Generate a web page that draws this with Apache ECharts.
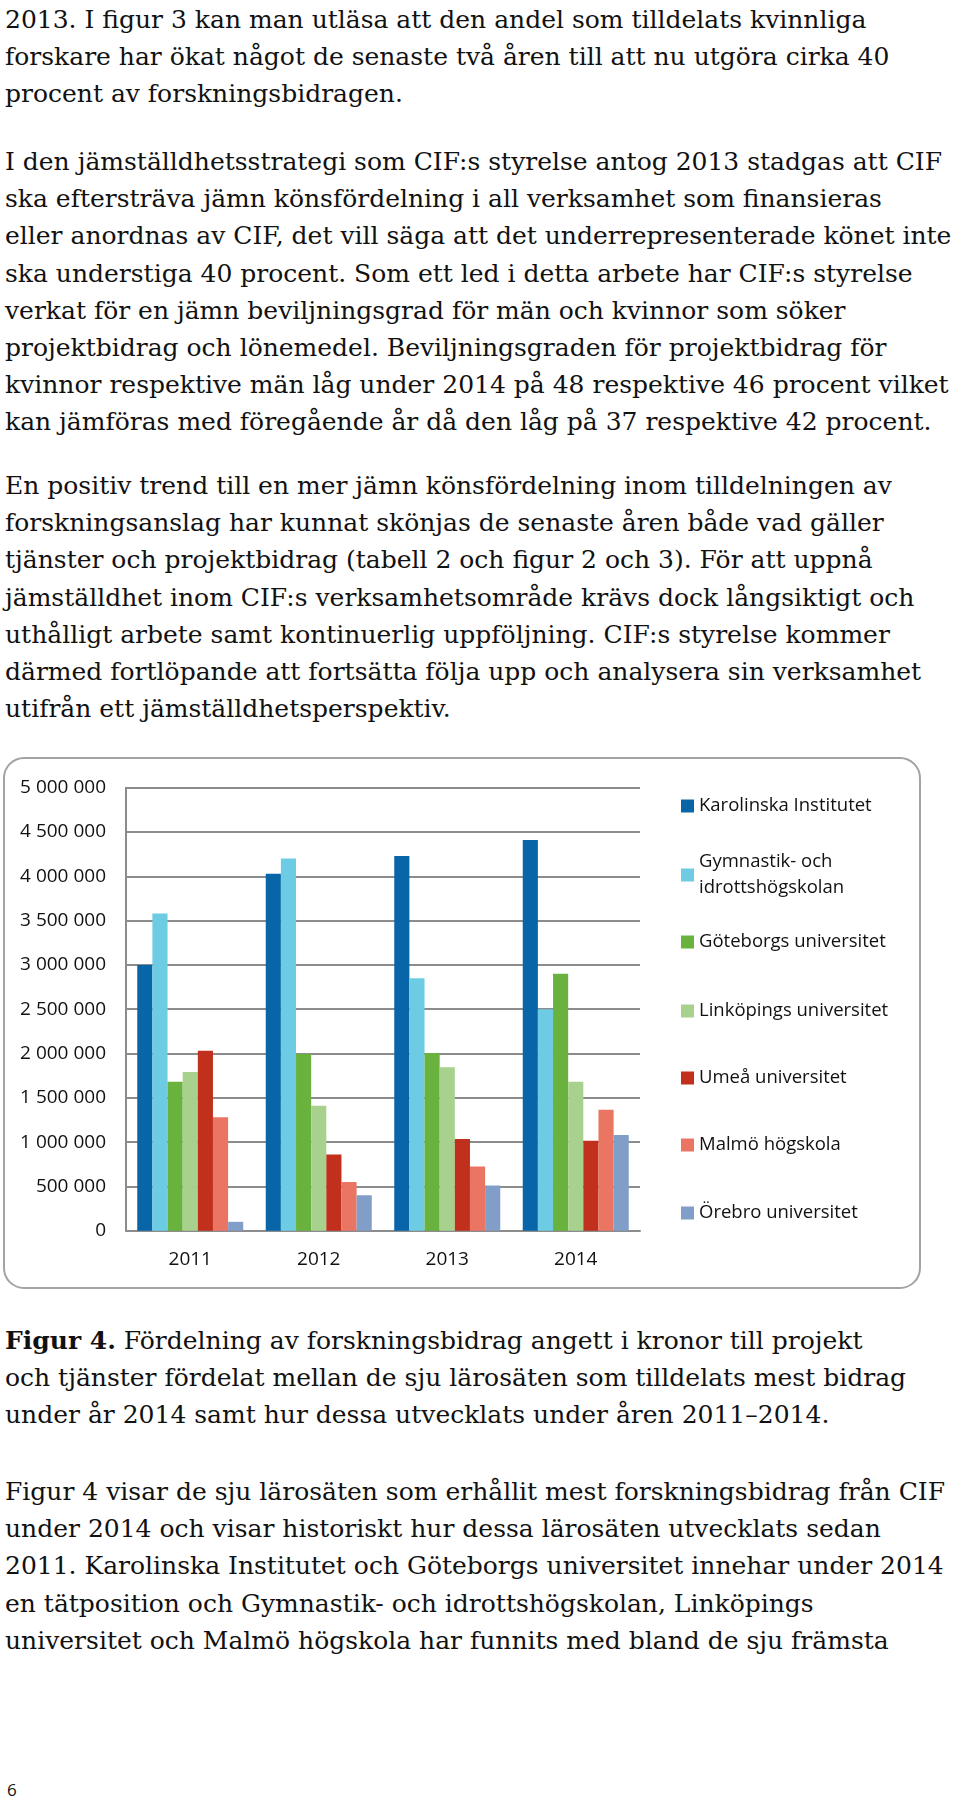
<!DOCTYPE html>
<html>
<head>
<meta charset="utf-8">
<script src="https://cdn.jsdelivr.net/npm/echarts@6/dist/echarts.min.js"></script>
<style>
  html, body { margin: 0; padding: 0; background: #fff; }
  body { width: 960px; height: 1802px; position: relative; overflow: hidden; }
  .p { position: absolute; left: 5px; font-family: "DejaVu Serif", serif; font-size: 25px; line-height: 37.2px; color: #111; white-space: nowrap; }
  .p div { white-space: nowrap; }
  #chart { position: absolute; left: 0; top: 750px; width: 960px; height: 550px; }
  #pg { position: absolute; left: 7px; top: 1778px; font-family: "Open Sans", sans-serif; font-size: 17px; color: #111; }
</style>
</head>
<body>
<div class="p" style="top:1px">
  <div>2013. I figur 3 kan man utläsa att den andel som tilldelats kvinnliga</div>
  <div>forskare har ökat något de senaste två åren till att nu utgöra cirka 40</div>
  <div>procent av forskningsbidragen.</div>
</div>
<div class="p" style="top:143px">
  <div>I den jämställdhetsstrategi som CIF:s styrelse antog 2013 stadgas att CIF</div>
  <div>ska eftersträva jämn könsfördelning i all verksamhet som finansieras</div>
  <div>eller anordnas av CIF, det vill säga att det underrepresenterade könet inte</div>
  <div>ska understiga 40 procent. Som ett led i detta arbete har CIF:s styrelse</div>
  <div>verkat för en jämn beviljningsgrad för män och kvinnor som söker</div>
  <div>projektbidrag och lönemedel. Beviljningsgraden för projektbidrag för</div>
  <div>kvinnor respektive män låg under 2014 på 48 respektive 46 procent vilket</div>
  <div>kan jämföras med föregående år då den låg på 37 respektive 42 procent.</div>
</div>
<div class="p" style="top:467px">
  <div>En positiv trend till en mer jämn könsfördelning inom tilldelningen av</div>
  <div>forskningsanslag har kunnat skönjas de senaste åren både vad gäller</div>
  <div>tjänster och projektbidrag (tabell 2 och figur 2 och 3). För att uppnå</div>
  <div>jämställdhet inom CIF:s verksamhetsområde krävs dock långsiktigt och</div>
  <div>uthålligt arbete samt kontinuerlig uppföljning. CIF:s styrelse kommer</div>
  <div>därmed fortlöpande att fortsätta följa upp och analysera sin verksamhet</div>
  <div>utifrån ett jämställdhetsperspektiv.</div>
</div>
<div id="chart"></div>
<div class="p" style="top:1322px">
  <div><b>Figur 4.</b> Fördelning av forskningsbidrag angett i kronor till projekt</div>
  <div>och tjänster fördelat mellan de sju lärosäten som tilldelats mest bidrag</div>
  <div>under år 2014 samt hur dessa utvecklats under åren 2011–2014.</div>
</div>
<div class="p" style="top:1473px">
  <div>Figur 4 visar de sju lärosäten som erhållit mest forskningsbidrag från CIF</div>
  <div>under 2014 och visar historiskt hur dessa lärosäten utvecklats sedan</div>
  <div>2011. Karolinska Institutet och Göteborgs universitet innehar under 2014</div>
  <div>en tätposition och Gymnastik- och idrottshögskolan, Linköpings</div>
  <div>universitet och Malmö högskola har funnits med bland de sju främsta</div>
</div>
<div id="pg">6</div>
<script>
// ---- data ----
const years = ['2011', '2012', '2013', '2014'];
const seriesNames = [
  'Karolinska Institutet',
  'Gymnastik- och idrottshögskolan',
  'Göteborgs universitet',
  'Linköpings universitet',
  'Umeå universitet',
  'Malmö högskola',
  'Örebro universitet'
];
const karolinska = [3000000, 4030000, 4230000, 4410000];
const gih        = [3580000, 4200000, 2850000, 2500000];
const goteborg   = [1680000, 1995000, 2005000, 2900000];
const linkoping  = [1790000, 1410000, 1845000, 1680000];
const umea       = [2030000, 860000, 1035000, 1015000];
const malmo      = [1280000, 550000, 725000, 1365000];
const orebro     = [100000, 400000, 510000, 1080000];
const seriesValues = [karolinska, gih, goteborg, linkoping, umea, malmo, orebro];
const yTickValues = [0, 500000, 1000000, 1500000, 2000000, 2500000, 3000000, 3500000, 4000000, 4500000, 5000000];
const legendLabels = ['Karolinska Institutet', 'Gymnastik- och\nidrottshögskolan', 'Göteborgs universitet',
  'Linköpings universitet', 'Umeå universitet', 'Malmö högskola', 'Örebro universitet'];

// ---- styles ----
const colors = ['#0866A8', '#6DCBE3', '#6AB23E', '#A9D18E', '#C1301C', '#EB7563', '#819EC8'];
const legendCenters = [56, 125, 192, 261, 328, 395, 463];
const LH = 26;
const fmt = v => String(v).replace(/\B(?=(\d{3})+(?!\d))/g, ' ');

const chart = echarts.init(document.getElementById('chart'), null, { renderer: 'canvas' });

const legends = seriesNames.map((name, i) => {
  const twoLine = legendLabels[i].indexOf('\n') >= 0;
  return {
    data: [name],
    left: 681,
    top: twoLine ? legendCenters[i] - LH * 1.5 : legendCenters[i] - LH / 2,
    padding: 0,
    itemWidth: 13,
    itemHeight: 13,
    icon: 'rect',
    selectedMode: false,
    formatter: () => legendLabels[i],
    textStyle: {
      fontFamily: 'Open Sans',
      fontSize: 18.5,
      color: '#111',
      lineHeight: LH,
      padding: twoLine ? [LH, 0, 0, 0] : 0
    }
  };
});

chart.setOption({
  animation: false,
  color: colors,
  graphic: [{
    type: 'rect',
    shape: { x: 4, y: 8, width: 916, height: 530, r: 20 },
    style: { fill: '#fff', stroke: '#a3a3a3', lineWidth: 2 },
    z: -10
  }],
  legend: legends,
  grid: { left: 126, top: 37.7, width: 514, height: 443 },
  xAxis: {
    type: 'category',
    data: years,
    axisTick: { show: false },
    axisLine: { show: true, lineStyle: { color: '#8c8c8c', width: 2 } },
    axisLabel: { fontFamily: 'Open Sans', fontSize: 19, color: '#111', margin: 19 }
  },
  yAxis: {
    type: 'value',
    min: yTickValues[0],
    max: yTickValues[yTickValues.length - 1],
    interval: yTickValues[1] - yTickValues[0],
    axisLine: { show: true, lineStyle: { color: '#8c8c8c', width: 2 } },
    axisTick: { show: false },
    splitLine: { show: true, lineStyle: { color: '#8c8c8c', width: 2 } },
    axisLabel: { fontFamily: 'Open Sans', fontSize: 19, color: '#111', margin: 20, formatter: fmt }
  },
  series: seriesNames.map((name, i) => ({
    name,
    type: 'bar',
    data: seriesValues[i],
    barGap: '0%',
    barCategoryGap: '17.5%'
  }))
});
</script>
</body>
</html>
